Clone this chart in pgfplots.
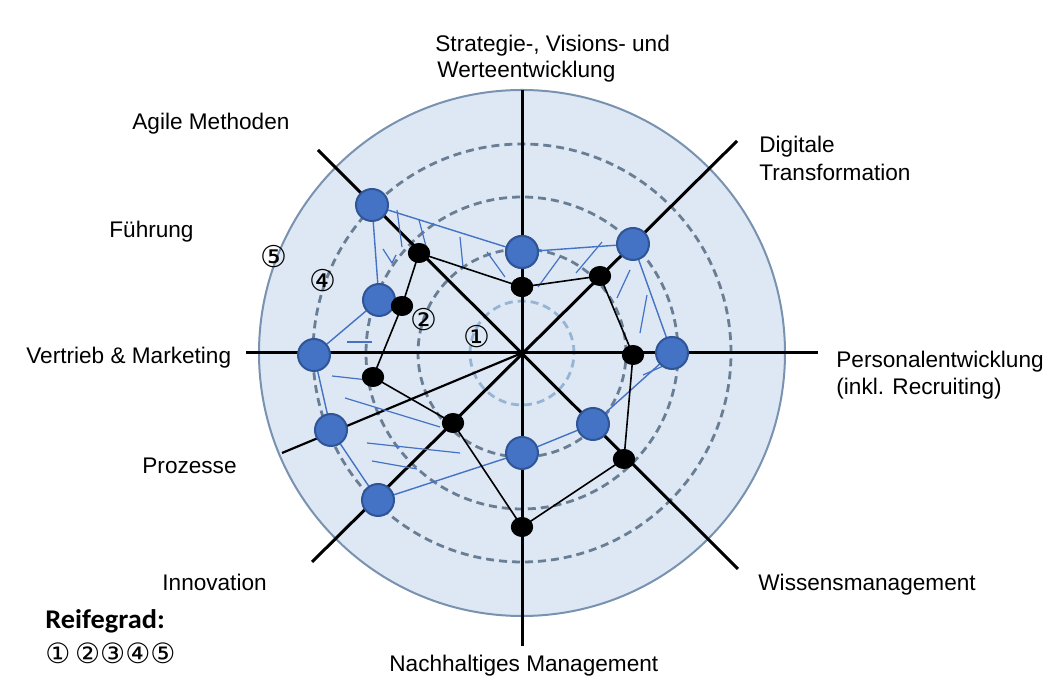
\documentclass[border=0pt]{standalone}
\usepackage{fontspec}
\setmainfont{Liberation Sans}
\newfontfamily\circfont{DejaVu Sans}
\newfontfamily\calfont{Carlito}
\usepackage{pgfplots}
\pgfplotsset{compat=1.18}
\usepackage{pgfplotstable}

\definecolor{bgblue}{RGB}{222,232,244}
\definecolor{rimblue}{RGB}{120,146,176}
\definecolor{dashgray}{RGB}{105,126,148}
\definecolor{dashlight}{RGB}{150,180,212}
\definecolor{dotblue}{RGB}{68,114,196}
\definecolor{dotedge}{RGB}{47,85,151}
\definecolor{lineblue}{RGB}{68,114,196}

% target maturity (blue), pixel-like units, centre = (0,0), 1 level ~ 52 units
\pgfplotstableread{
x y
0 101
111 109
150 0
71 -71
0 -100
-144 -147
-191 -77
-208 -2
-143 53
-150 148
0 101
}\target
% current maturity (black)
\pgfplotstableread{
x y
0 66
78 77
111 -2
102 -106
0 -174
-69 -70
-149 -24
-120 47
-103 100
0 66
}\current

\begin{document}
\begin{tikzpicture}
\begin{axis}[x=0.5pt,y=0.5pt,xmin=-522,xmax=529,ymin=-342,ymax=353,
  hide axis,clip=false]
\coordinate (bl) at (axis cs:-522,-342);
\coordinate (tr) at (axis cs:529,353);
% background disc (level 5)
\fill[bgblue] (axis cs:0,0) circle[radius=263];
\draw[rimblue,line width=1pt] (axis cs:0,0) circle[radius=263];
% level rings
\draw[dashlight,line width=1.4pt,dash pattern=on 4pt off 2.5pt] (axis cs:0,0) circle[radius=52];
\draw[dashgray,line width=1.4pt,dash pattern=on 4pt off 2.5pt] (axis cs:0,0) circle[radius=104];
\draw[dashgray,line width=1.4pt,dash pattern=on 4pt off 2.5pt] (axis cs:0,0) circle[radius=156];
\draw[dashgray,line width=1.4pt,dash pattern=on 4pt off 2.5pt] (axis cs:0,0) circle[radius=209];
% spokes
\draw[black,line width=1.5pt] (axis cs:0,263) -- (axis cs:0,-293);
\draw[black,line width=1.5pt] (axis cs:-276,0) -- (axis cs:296,0);
\draw[black,line width=1.5pt] (axis cs:215,212) -- (axis cs:-210,-209);
\draw[black,line width=1.5pt] (axis cs:-204,203) -- (axis cs:216,-216);
\draw[black,line width=1.1pt] (axis cs:0,0) -- (axis cs:-240,-100);
% hatching between target and current
\begin{scope}[lineblue,line width=0.6pt]
\draw (axis cs:-125,143) -- (axis cs:-120,106);
\draw (axis cs:-139,104) -- (axis cs:-130,90) -- (axis cs:-126,98);
\draw (axis cs:-103,133) -- (axis cs:-95,103);
\draw (axis cs:-62,116) -- (axis cs:-59,86);
\draw (axis cs:-35,101) -- (axis cs:-17,76);
\draw (axis cs:38,96) -- (axis cs:16,66);
\draw (axis cs:80,111) -- (axis cs:54,80);
\draw (axis cs:108,83) -- (axis cs:95,55);
\draw (axis cs:125,58) -- (axis cs:118,20);
\draw (axis cs:121,-22) -- (axis cs:148,-10);
\draw (axis cs:-175,11) -- (axis cs:-150,11);
\draw (axis cs:-190,-23) -- (axis cs:-154,-27);
\draw (axis cs:-177,-45) -- (axis cs:-82,-74);
\draw (axis cs:-155,-90) -- (axis cs:-62,-100);
\draw (axis cs:-150,-108) -- (axis cs:-105,-116);
\end{scope}
% polygons
\addplot[lineblue,line width=0.7pt] table {\target};
\addplot[black,line width=0.8pt] table {\current};
\addplot[only marks,mark=*,mark size=8pt,
  mark options={fill=dotblue,draw=dotedge,line width=1pt}] table {\target};
\addplot[only marks,mark=*,mark size=4.8pt,
  mark options={fill=black,draw=black,xscale=1.12}] table {\current};
% level numbers in the chart
\begin{scope}[every node/.style={inner sep=0pt,font=\circfont\fontsize{15}{16}\selectfont}]
\node at (axis cs:-45,16) {①};
\node at (axis cs:-98,33) {②};
\node at (axis cs:-199,72) {④};
\node at (axis cs:-248,96) {⑤};
\end{scope}
% axis labels
\begin{scope}[every node/.style={anchor=base west,inner sep=0pt,font=\fontsize{11.3}{13}\selectfont}]
\node at (axis cs:-87,301) {Strategie-, Visions- und};
\node at (axis cs:-85,275) {Werteentwicklung};
\node at (axis cs:237,200) {Digitale};
\node at (axis cs:237,172) {Transformation};
\node at (axis cs:-390,223) {Agile Methoden};
\node at (axis cs:-413,115) {Führung};
\node at (axis cs:-496,-11) {Vertrieb \& Marketing};
\node at (axis cs:314,-15) {Personalentwicklung};
\node at (axis cs:314,-42) {(inkl. Recruiting)};
\node at (axis cs:-380,-121) {Prozesse};
\node at (axis cs:-360,-238) {Innovation};
\node at (axis cs:236,-238) {Wissensmanagement};
\node at (axis cs:-133,-319) {Nachhaltiges Management};
\node at (axis cs:-477,-276) {\calfont\bfseries\fontsize{13.5}{15}\selectfont\scalebox{1.05}[1]{Reifegrad:}};
\node at (axis cs:-477,-311) {\circfont\fontsize{14}{16}\selectfont ①\,②③④⑤};
\end{scope}
\end{axis}
\pgfresetboundingbox
\path (bl) rectangle (tr);
\end{tikzpicture}
\end{document}
